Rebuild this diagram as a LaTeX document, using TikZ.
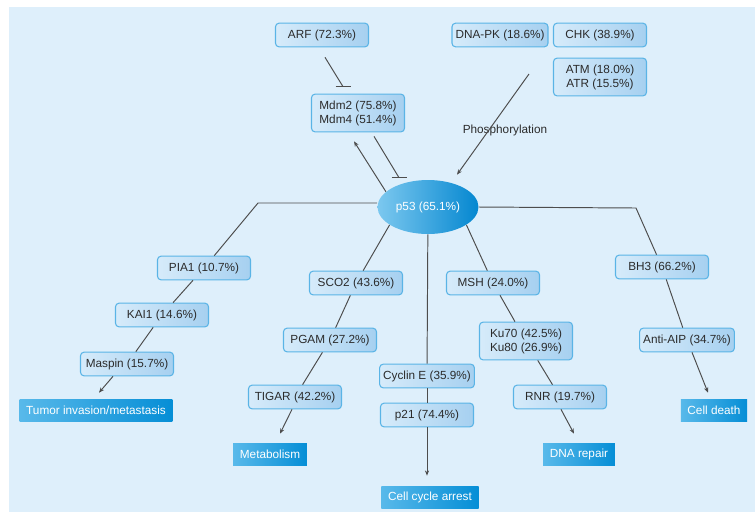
\documentclass[tikz,border=0pt]{standalone}
\usepackage{fontspec}
\setmainfont{Liberation Sans}
\usetikzlibrary{arrows.meta, positioning, calc, shapes.geometric}
\definecolor{panelbg}{HTML}{DEEFFB}
\definecolor{boxleft}{HTML}{D6EBFA}
\definecolor{boxright}{HTML}{A6D0F0}
\definecolor{boxline}{HTML}{5AB4E6}
\definecolor{fateleft}{HTML}{58B9EA}
\definecolor{fatedark}{HTML}{058ED6}
\definecolor{ovalleft}{HTML}{7CC8EF}
\definecolor{ovaldark}{HTML}{0487D0}
\definecolor{txtdark}{HTML}{2B2B2B}
\definecolor{linegray}{HTML}{4D4D4D}

\begin{document}
\begin{tikzpicture}[x=0.02cm, y=-0.02cm,
  font=\fontsize{6.7}{8}\selectfont,
  >={Stealth[length=3pt, width=2.4pt]},
  gene/.style={draw=boxline, line width=0.6pt, rounded corners=2pt,
    left color=boxleft, right color=boxright, text=txtdark,
    minimum width=1.86cm, minimum height=0.44cm,
    inner xsep=2pt, inner ysep=3.6pt, align=center},
  fate/.style={left color=fateleft, right color=fatedark, text=white,
    minimum height=0.44cm, inner xsep=3.8pt, inner ysep=0pt},
  link/.style={linegray, line width=0.55pt}]

% Background (pixel grid, y downwards)
\useasboundingbox (0,0) rectangle (755,512);
\fill[panelbg] (9,7) rectangle (755,512);

% Upstream regulators
\node[gene] (arf) at (322,35) {ARF (72.3\%)};
\node[gene] (dnapk) at (500,35) {DNA-PK (18.6\%)};
\node[gene] (chk) at (600,35) {CHK (38.9\%)};
\node[gene] (atm) at (600,77) {ATM (18.0\%)\\ATR (15.5\%)};
\node[gene] (mdm) at (358,113) {Mdm2 (75.8\%)\\Mdm4 (51.4\%)};
\node[text=txtdark] (phos) at (505,130) {Phosphorylation};

% p53 hub
\node[ellipse, minimum width=2.02cm, minimum height=1.08cm, inner sep=0pt,
  left color=ovalleft, right color=ovaldark, text=white] (p53) at (428,207) {p53 (65.1\%)};

% Tumor invasion branch
\node[gene] (pia1) at (204,268) {PIA1 (10.7\%)};
\node[gene] (kai1) at (162,315) {KAI1 (14.6\%)};
\node[gene] (maspin) at (127,364) {Maspin (15.7\%)};
\node[fate] (tumor) at (96,410) {Tumor invasion/metastasis};

% Metabolism branch
\node[gene] (sco2) at (356,283) {SCO2 (43.6\%)};
\node[gene] (pgam) at (330,340) {PGAM (27.2\%)};
\node[gene] (tigar) at (295,397) {TIGAR (42.2\%)};
\node[fate] (metab) at (270,454) {Metabolism};

% Cell cycle branch
\node[gene] (cycline) at (427,376) {Cyclin E (35.9\%)};
\node[gene] (p21) at (427,415) {p21 (74.4\%)};
\node[fate] (arrest) at (430,497) {Cell cycle arrest};

% DNA repair branch
\node[gene] (msh) at (493,283) {MSH (24.0\%)};
\node[gene] (ku) at (526,341) {Ku70 (42.5\%)\\Ku80 (26.9\%)};
\node[gene] (rnr) at (560,397) {RNR (19.7\%)};
\node[fate] (repair) at (579,454) {DNA repair};

% Cell death branch
\node[gene] (bh3) at (662,267) {BH3 (66.2\%)};
\node[gene] (antiaip) at (687,340) {Anti-AIP (34.7\%)};
\node[fate] (death) at (714,410) {Cell death};

% Inhibition (flat bars)
\coordinate (arfbar) at ($(mdm.north)+(-15,-7)$);
\draw[link] ($(arf.south)+(3,10)$) -- (arfbar);
\draw[link] ($(arfbar)+(-7.5,0)$) -- ($(arfbar)+(7.5,0)$);
\coordinate (mdmbar) at ($(p53.north)+(-29,-2)$);
\draw[link] ($(mdm.south)+(16,4)$) -- (mdmbar);
\draw[link] ($(mdmbar)+(-7.5,0)$) -- ($(mdmbar)+(7.5,0)$);

% Activation
\draw[link, ->] (p53.160) -- ($(mdm.south)+(-4,9)$);
\coordinate (phosstart) at ($(atm.west)+(-24,-3)$);
\draw[link, ->] (phosstart) -- ($(p53.north)+(29,-5)$);

% Branches out of p53
\coordinate (lbend) at (258,203);
\coordinate (rbend) at (636,208);
\draw[link] (p53.west |- lbend) -- (lbend) -- (pia1);
\draw[link] (p53.east) -- (rbend) -- (bh3);
\draw[link] (p53.205) -- (sco2);
\draw[link] (p53.335) -- (msh);
\draw[link] (p53) -- (cycline);

% Chains
\draw[link] (pia1) -- (kai1) -- (maspin);
\draw[link] (sco2) -- (pgam) -- (tigar);
\draw[link] (cycline) -- (p21);
\draw[link] (msh) -- (ku) -- (rnr);
\draw[link] (bh3) -- (antiaip);

% Outcomes
\draw[link, ->] ($(maspin.south)+(-14,0)$) -- ($(tumor.north)+(3,-6)$);
\draw[link, ->] ($(tigar.south)+(-3,0)$) -- ($(metab.north)+(10,-9)$);
\draw[link, ->] (p21) -- ($(arrest.north)+(-3,-10)$);
\draw[link, ->] ($(rnr.south)+(1,0)$) -- ($(repair.north)+(-5,-9)$);
\draw[link, ->] ($(antiaip.south)+(5,0)$) -- ($(death.north)+(-6,-6)$);

\end{tikzpicture}
\end{document}
